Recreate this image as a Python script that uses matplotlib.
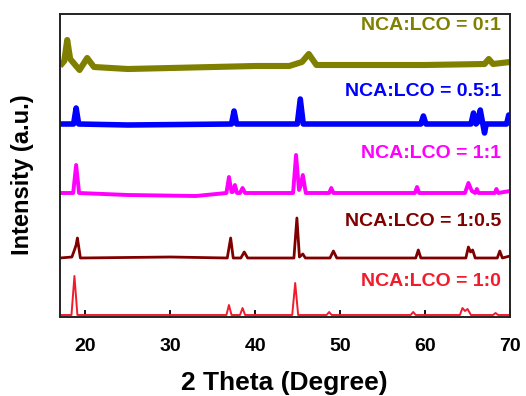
import matplotlib
matplotlib.use("Agg")
import matplotlib.pyplot as plt

# ---------------- data (offset intensity units) ----------------
red_x = [17.0, 18.35, 18.7, 19.05, 36.6, 36.9, 37.2, 38.2, 38.5, 38.8, 44.35, 44.7, 45.05,
         48.4, 48.7, 49.0, 58.3, 58.6, 58.9, 64.1, 64.4, 64.7, 65.0, 65.4, 68.0, 68.3, 68.6, 70.0]
red_y = [2, 2, 41, 2, 2, 12, 2, 2, 9, 2, 2, 34, 2,
         2, 5, 2, 2, 5, 2, 2, 9, 6, 8, 2, 2, 4, 2, 2]

drk_x = [17.0, 18.4, 18.7, 18.9, 19.05, 19.4, 30.0, 36.7, 37.1, 37.4, 38.3, 38.7, 39.1,
         44.55, 44.9, 45.2, 45.6, 45.9, 48.8, 49.2, 49.6, 58.9, 59.2, 59.5,
         64.8, 65.1, 65.35, 65.6, 65.9, 68.5, 68.8, 69.1, 70.0]
drk_y = [59, 60, 67, 72, 79, 59, 60, 59, 79, 59, 59, 65, 59,
         59, 99, 60, 63, 59, 59, 66, 59, 59, 67, 59,
         59, 70, 65, 67, 59, 59, 66, 59, 61]

mag_x = [17.0, 18.55, 18.9, 19.25, 25.0, 33.0, 36.6, 36.9, 37.2, 37.35, 37.6, 37.85, 38.2, 38.5, 38.8,
         44.45, 44.8, 45.15, 45.3, 45.6, 45.95, 48.7, 48.95, 49.2, 58.8, 59.05, 59.3,
         64.7, 65.1, 65.5, 65.9, 66.1, 66.3, 68.2, 68.4, 68.6, 70.0]
mag_y = [124, 124, 152, 124, 122, 121, 124, 140, 125, 125, 132, 124, 124, 129, 124,
         124, 162, 127, 130, 142, 124, 124, 129, 124, 124, 130, 124,
         124, 134, 126, 124, 128, 124, 124, 128, 124, 126]

blue_x = [17.0, 18.6, 18.9, 19.2, 25.0, 37.2, 37.5, 37.8, 44.95, 45.3, 45.65, 59.5, 59.8, 60.1,
          65.4, 65.7, 66.0, 66.2, 66.5, 66.8, 67.0, 67.2, 69.6, 69.85, 70.0]
blue_y = [193, 193, 209, 193, 192, 193, 206, 193, 193, 218, 193, 193, 201, 193,
          193, 204, 193, 195, 207, 193, 184, 193, 193, 202, 198]

olv_x = [17.0, 17.5, 17.85, 18.2, 19.3, 20.2, 21.0, 25.0, 30.0, 35.0, 40.0, 44.0, 45.5, 46.3,
         47.2, 50.0, 55.0, 60.0, 67.0, 67.5, 68.0, 70.0]
olv_y = [251, 256, 277, 258, 247, 259, 250, 248, 249, 250, 251, 251, 255, 263,
         252, 252, 252, 252, 253, 258, 253, 255]

labels = ["NCA:LCO = 1:0", "NCA:LCO = 1:0.5", "NCA:LCO = 1:1", "NCA:LCO = 0.5:1", "NCA:LCO = 0:1"]
label_y = [36, 95, 164, 225, 292]
colors = ["#f01c2c", "#800000", "#ff00ff", "#0000ff", "#808000"]
xticks = [20, 30, 40, 50, 60, 70]

# ---------------- plot ----------------
fig = plt.figure(figsize=(5.26, 3.96), dpi=100)
ax = fig.add_axes([60/526, 1-317/396, 450/526, 303/396])

series = [(red_x, red_y, 1.4), (drk_x, drk_y, 2.0), (mag_x, mag_y, 2.8),
          (blue_x, blue_y, 4.0), (olv_x, olv_y, 4.4)]
for (xs, ys, lw), c in zip(series, colors):
    ax.plot(xs, ys, color=c, lw=lw, solid_joinstyle="round", solid_capstyle="butt")

font = "Liberation Sans"
for lab, ly, c in zip(labels, label_y, colors):
    ax.text(0.98, ly, lab, transform=ax.get_yaxis_transform(), ha="right", va="center",
            color=c, fontsize=14, fontweight="bold", family=font)

ax.set_xlim(17, 70)
ax.set_ylim(0, 303)
ax.set_xticks(xticks)
ax.set_yticks([])
ax.tick_params(axis="x", direction="in", length=5, width=1.3, pad=15,
               labelsize=14)
for t in ax.get_xticklabels():
    t.set_fontweight("bold")
    t.set_family(font)
for s in ax.spines.values():
    s.set_linewidth(1.4)
    s.set_color("#222222")

fig.text(284.5/526, 1-390/396, "2 Theta (Degree)", ha="center", va="baseline",
         fontsize=19, fontweight="bold", family=font)
fig.text(23/526, 1-174.5/396, "Intensity (a.u.)", ha="center", va="center", rotation=90,
         fontsize=17, fontweight="bold", family=font)

fig.savefig("out.png", dpi=100)
